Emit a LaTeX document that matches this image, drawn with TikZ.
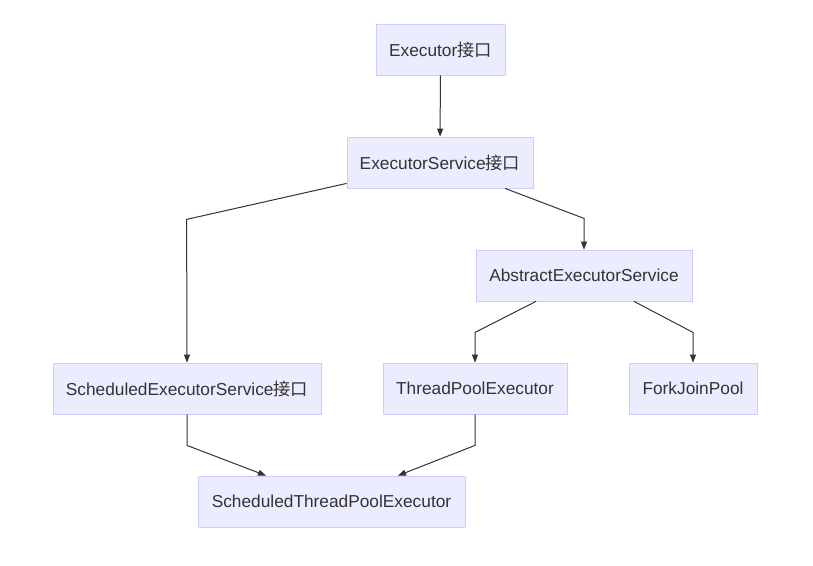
\documentclass[tikz,border=0pt]{standalone}
\usepackage{fontspec}
\setmainfont{Liberation Sans}
\newfontfamily\cjk{Noto Sans CJK SC}
\usetikzlibrary{arrows.meta}
\definecolor{boxfill}{HTML}{ECECFF}
\definecolor{boxline}{HTML}{CCCCFF}
\definecolor{txt}{HTML}{333333}
\tikzset{
  box/.style={draw=boxline, fill=boxfill, line width=0.8pt, minimum height=51pt, inner sep=0pt,
    text=txt, font=\fontsize{17.3}{20}\selectfont},
  arr/.style={draw=txt, line width=1pt, -{Stealth[length=8pt,width=6pt,inset=0pt]}}
}
\begin{document}
\begin{tikzpicture}[x=1pt,y=1pt]
\useasboundingbox (0,0) rectangle (813,-565);
\node[box, minimum width=129pt] (ex) at (440.5,-49.5) {Executor{\cjk 接口}};
\node[box, minimum width=186pt] (es) at (440,-162.5) {ExecutorService{\cjk 接口}};
\node[box, minimum width=216pt] (abs) at (584,-275.5) {AbstractExecutorService};
\node[box, minimum width=268pt] (sch) at (187,-388.5) {ScheduledExecutorService{\cjk 接口}};
\node[box, minimum width=184pt] (tpe) at (475,-388.5) {ThreadPoolExecutor};
\node[box, minimum width=128pt] (fjp) at (693,-388.5) {ForkJoinPool};
\node[box, minimum width=267pt] (stpe) at (331.5,-501.5) {ScheduledThreadPoolExecutor};
\draw[arr] (ex) -- (es);
\draw[arr] ([yshift=5pt]es.south west) -- ++(-160,-36) -- (sch.north);
\draw[arr] ([xshift=65pt]es.south) -- ++(79,-30) -- (abs.north);
\draw[arr] ([xshift=-48pt]abs.south) -- ++(-61,-31) -- (tpe.north);
\draw[arr] ([xshift=50pt]abs.south) -- ++(59,-31) -- (fjp.north);
\draw[arr] (sch.south) -- ++(0,-31) -- ([xshift=-65.5pt]stpe.north);
\draw[arr] (tpe.south) -- ++(0,-31) -- ([xshift=66.5pt]stpe.north);
\end{tikzpicture}
\end{document}
